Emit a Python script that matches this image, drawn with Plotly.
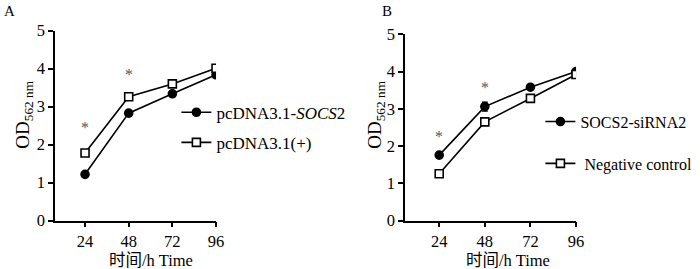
import plotly.graph_objects as go

times = [24, 48, 72, 96]
tick_vals_y = [0, 1, 2, 3, 4, 5]

# Panel A
a_socs2 = [1.22, 2.83, 3.34, 3.84]
a_socs2_err = [0.03, 0.04, 0.04, 0.04]
a_vector = [1.78, 3.26, 3.60, 4.01]
a_vector_err = [0.06, 0.05, 0.04, 0.04]
a_star_x = [24, 48]
a_star_y = [2.45, 3.85]

# Panel B
b_sirna = [1.76, 3.06, 3.58, 4.00]
b_sirna_err = [0.03, 0.12, 0.04, 0.04]
b_nc = [1.26, 2.65, 3.28, 3.92]
b_nc_err = [0.05, 0.05, 0.05, 0.04]
b_star_x = [24, 48]
b_star_y = [2.25, 3.58]

x_title = "时间/h Time"
y_title = "OD<sub>562 nm</sub>"

FONT = "Liberation Serif, Noto Sans CJK SC, serif"

fig = go.Figure()

def add(x, y, err, name, symbol, xa, ya, legend, group):
    fig.add_trace(go.Scatter(
        x=x, y=y, mode="lines+markers", name=name,
        xaxis=xa, yaxis=ya, legend=legend, legendgroup=group,
        line=dict(color="black", width=1.6),
        marker=dict(symbol=symbol, size=8, color="black" if symbol == "circle" else "white",
                    line=dict(color="black", width=1.6)),
        error_y=dict(type="data", array=err, visible=True, color="black", thickness=1.2, width=3),
    ))

add(times, a_socs2, a_socs2_err, "pcDNA3.1-<i>SOCS</i>2", "circle", "x", "y", "legend", "a1")
add(times, a_vector, a_vector_err, "pcDNA3.1(+)", "square", "x", "y", "legend", "a2")
add(times, b_sirna, b_sirna_err, "SOCS2-siRNA2", "circle", "x2", "y2", "legend2", "b1")
add(times, b_nc, b_nc_err, " Negative control", "square", "x2", "y2", "legend2", "b2")

for xs, ys, xr, yr in [(a_star_x, a_star_y, "x", "y"), (b_star_x, b_star_y, "x2", "y2")]:
    for xv, yv in zip(xs, ys):
        fig.add_annotation(x=xv, y=yv, xref=xr, yref=yr, text="*", showarrow=False,
                           font=dict(family=FONT, size=16, color="#555555"))

axis_common = dict(showline=True, linecolor="black", linewidth=1.6, ticks="outside",
                   ticklen=5, tickwidth=1.6, tickcolor="black", showgrid=False, zeroline=False,
                   automargin=False,
                   tickfont=dict(family=FONT, size=16.5, color="black"))

fig.update_layout(
    width=700, height=269, margin=dict(l=0, r=0, t=0, b=0, autoexpand=False),
    paper_bgcolor="white", plot_bgcolor="white",
    font=dict(family=FONT, color="black"),
    xaxis=dict(domain=[0.0786, 0.3086], range=[7.5, 96], tickvals=times, anchor="y", **axis_common),
    yaxis=dict(domain=[0.1796, 0.8859], range=[0, 5], tickvals=tick_vals_y, anchor="x", **axis_common),
    xaxis2=dict(domain=[0.5786, 0.8229], range=[6, 96], tickvals=times, anchor="y2", **axis_common),
    yaxis2=dict(domain=[0.1796, 0.8725], range=[0, 5], tickvals=tick_vals_y, anchor="x2", **axis_common),
    legend=dict(x=0.252, y=0.648, xanchor="left", yanchor="top", traceorder="grouped",
                tracegroupgap=5, itemwidth=30, bgcolor="rgba(0,0,0,0)",
                font=dict(family=FONT, size=17, color="black")),
    legend2=dict(x=0.772, y=0.611, xanchor="left", yanchor="top", traceorder="grouped",
                 tracegroupgap=18, itemwidth=30, bgcolor="rgba(0,0,0,0)",
                 font=dict(family=FONT, size=16, color="black")),
    showlegend=True,
)

# axis titles
for xr, xpos in [("x", 60), ("x2", 60)]:
    fig.add_annotation(x=xpos, y=0.033, xref=xr, yref="paper", text=x_title, showarrow=False,
                       xanchor="center", yanchor="middle",
                       font=dict(family=FONT, size=16.5, color="black"))
for xp in [0.035, 0.538]:
    fig.add_annotation(x=xp, y=0.572, xref="paper", yref="paper", text=y_title, showarrow=False,
                       textangle=-90, xanchor="center", yanchor="middle",
                       font=dict(family=FONT, size=19, color="black"))

fig.add_annotation(x=0.003, y=0.995, xref="paper", yref="paper", text="A", showarrow=False,
                   xanchor="left", yanchor="top", font=dict(family=FONT, size=15, color="black"))
fig.add_annotation(x=0.543, y=0.995, xref="paper", yref="paper", text="B", showarrow=False,
                   xanchor="left", yanchor="top", font=dict(family=FONT, size=15, color="black"))

fig.write_html("out.html", config={"displayModeBar": False},
               post_script="document.body.style.margin='0px';document.body.style.overflow='hidden';")
